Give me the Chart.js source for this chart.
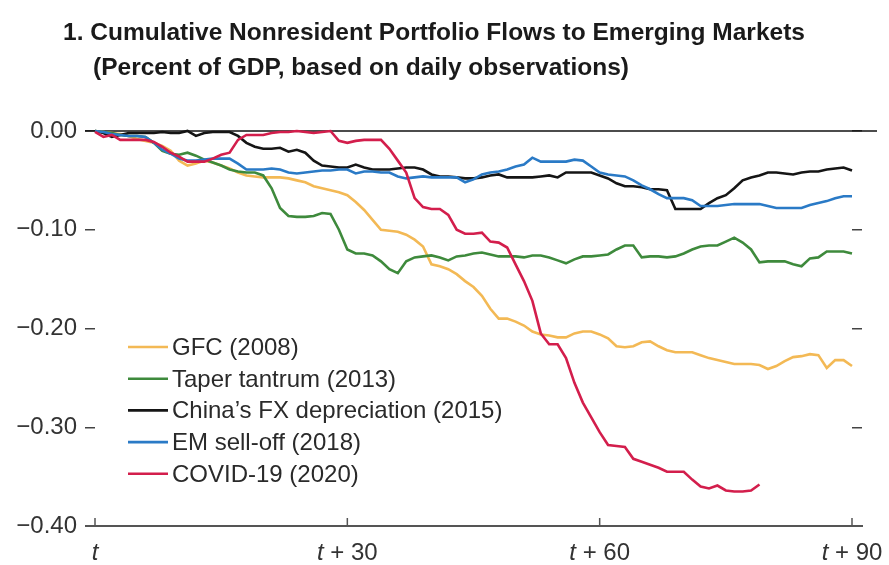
<!DOCTYPE html>
<html>
<head>
<meta charset="utf-8">
<script src="https://cdn.jsdelivr.net/npm/chart.js@4/dist/chart.umd.min.js"></script>
<style>
html,body{margin:0;padding:0;background:#fff;}
#wrap{position:relative;width:889px;height:565px;overflow:hidden;}
.title{position:absolute;font-family:"Liberation Sans",Arial,sans-serif;font-weight:bold;font-size:24.5px;line-height:24.5px;color:#1a1a1a;white-space:nowrap;}
#t1{left:63px;top:20px;}
#t2{left:93px;top:55px;}
canvas{position:absolute;left:0;top:0;}
</style>
</head>
<body>
<div id="wrap">
<canvas id="c" width="889" height="565"></canvas>
<div class="title" id="t1">1. Cumulative Nonresident Portfolio Flows to Emerging Markets</div>
<div class="title" id="t2">(Percent of GDP, based on daily observations)</div>
</div>
<script>
// ---- data (percent of GDP, daily, t = day 0) ----
const seriesNames = ["GFC (2008)", "Taper tantrum (2013)", "China\u2019s FX depreciation (2015)", "EM sell-off (2018)", "COVID-19 (2020)"];

const gfc = [0,-0.001,-0.002,-0.003,-0.005,-0.008,-0.01,-0.012,-0.015,-0.02,-0.03,-0.035,-0.033,-0.03,-0.032,-0.035,-0.038,-0.042,-0.045,-0.046,-0.047,-0.047,-0.047,-0.048,-0.05,-0.052,-0.056,-0.058,-0.06,-0.062,-0.065,-0.072,-0.08,-0.09,-0.1,-0.101,-0.102,-0.105,-0.11,-0.117,-0.135,-0.137,-0.14,-0.145,-0.152,-0.158,-0.167,-0.18,-0.19,-0.19,-0.193,-0.197,-0.203,-0.206,-0.207,-0.209,-0.209,-0.205,-0.203,-0.203,-0.206,-0.21,-0.218,-0.219,-0.218,-0.214,-0.213,-0.218,-0.222,-0.224,-0.224,-0.224,-0.227,-0.23,-0.232,-0.234,-0.236,-0.236,-0.236,-0.237,-0.241,-0.238,-0.233,-0.229,-0.228,-0.226,-0.227,-0.24,-0.232,-0.232,-0.238];

const taperTantrum = [0,-0.001,-0.002,-0.004,-0.005,-0.005,-0.006,-0.012,-0.02,-0.023,-0.024,-0.022,-0.025,-0.029,-0.032,-0.035,-0.039,-0.041,-0.042,-0.042,-0.045,-0.058,-0.078,-0.086,-0.087,-0.087,-0.086,-0.083,-0.084,-0.1,-0.12,-0.124,-0.124,-0.126,-0.132,-0.14,-0.144,-0.132,-0.128,-0.127,-0.126,-0.128,-0.131,-0.127,-0.126,-0.124,-0.123,-0.125,-0.127,-0.127,-0.127,-0.128,-0.126,-0.126,-0.128,-0.131,-0.134,-0.13,-0.127,-0.127,-0.126,-0.125,-0.12,-0.116,-0.116,-0.128,-0.127,-0.127,-0.128,-0.127,-0.124,-0.12,-0.117,-0.116,-0.116,-0.112,-0.108,-0.113,-0.12,-0.133,-0.132,-0.132,-0.132,-0.135,-0.137,-0.129,-0.128,-0.122,-0.122,-0.122,-0.124];

const chinaFx = [0,-0.002,-0.006,-0.004,-0.002,-0.002,-0.002,-0.002,-0.001,-0.002,-0.002,0,-0.005,-0.002,-0.001,-0.001,-0.001,-0.005,-0.012,-0.016,-0.018,-0.018,-0.017,-0.021,-0.019,-0.022,-0.03,-0.035,-0.036,-0.037,-0.037,-0.034,-0.037,-0.039,-0.039,-0.039,-0.038,-0.037,-0.037,-0.039,-0.044,-0.046,-0.046,-0.047,-0.048,-0.048,-0.047,-0.045,-0.044,-0.047,-0.047,-0.047,-0.047,-0.046,-0.045,-0.047,-0.042,-0.042,-0.042,-0.042,-0.045,-0.048,-0.053,-0.056,-0.056,-0.057,-0.059,-0.059,-0.06,-0.079,-0.079,-0.079,-0.079,-0.073,-0.068,-0.065,-0.058,-0.05,-0.047,-0.045,-0.042,-0.042,-0.043,-0.044,-0.042,-0.041,-0.041,-0.039,-0.038,-0.037,-0.04];

const emSellOff = [0,-0.001,-0.003,-0.004,-0.005,-0.005,-0.006,-0.012,-0.019,-0.023,-0.028,-0.03,-0.03,-0.029,-0.028,-0.028,-0.028,-0.033,-0.039,-0.039,-0.039,-0.038,-0.039,-0.042,-0.043,-0.042,-0.041,-0.04,-0.04,-0.039,-0.039,-0.043,-0.041,-0.041,-0.042,-0.042,-0.046,-0.048,-0.047,-0.046,-0.047,-0.047,-0.047,-0.047,-0.052,-0.049,-0.044,-0.042,-0.041,-0.039,-0.036,-0.034,-0.027,-0.031,-0.031,-0.031,-0.031,-0.029,-0.03,-0.036,-0.042,-0.044,-0.045,-0.046,-0.05,-0.055,-0.059,-0.064,-0.068,-0.068,-0.068,-0.07,-0.076,-0.076,-0.076,-0.075,-0.074,-0.074,-0.074,-0.074,-0.076,-0.078,-0.078,-0.078,-0.078,-0.075,-0.073,-0.071,-0.068,-0.066,-0.066];

const covid19 = [-0.001,-0.006,-0.004,-0.009,-0.009,-0.009,-0.009,-0.011,-0.016,-0.022,-0.026,-0.031,-0.031,-0.031,-0.028,-0.024,-0.022,-0.009,-0.004,-0.004,-0.004,-0.002,-0.001,-0.001,0,-0.001,-0.002,-0.001,0,-0.01,-0.012,-0.01,-0.009,-0.009,-0.009,-0.018,-0.03,-0.042,-0.068,-0.077,-0.079,-0.079,-0.085,-0.1,-0.104,-0.104,-0.103,-0.112,-0.113,-0.118,-0.135,-0.152,-0.172,-0.205,-0.216,-0.216,-0.23,-0.255,-0.275,-0.29,-0.305,-0.318,-0.319,-0.32,-0.332,-0.335,-0.338,-0.341,-0.345,-0.345,-0.345,-0.353,-0.36,-0.362,-0.359,-0.364,-0.365,-0.365,-0.364,-0.358];

const xTickValues = [0, 30, 60, 90];
const xTickLabels = ["t", "t + 30", "t + 60", "t + 90"];
const yTickValues = [0, -0.1, -0.2, -0.3, -0.4];
const yTickLabels = ["0.00", "\u22120.10", "\u22120.20", "\u22120.30", "\u22120.40"];

// ---- styles ----
const FONT = '"Liberation Sans", Arial, sans-serif';
const NARROW = '"Liberation Sans Narrow", "Arial Narrow", sans-serif';
const colors = ["#F3B955", "#3E8A3C", "#151515", "#2A7AC6", "#D31E4C"];
const allSeries = [gfc, taperTantrum, chinaFx, emSellOff, covid19];

// detect narrow font
function hasFont(name) {
  const cv = document.createElement("canvas").getContext("2d");
  const s = "abcdefghijklmnopqrstuvwxyz0123456789";
  cv.font = '40px monospace'; const a = cv.measureText(s).width;
  cv.font = '40px "' + name + '", monospace'; const b = cv.measureText(s).width;
  return Math.abs(a - b) > 0.5;
}
const narrowOK = hasFont("Liberation Sans Narrow");
let legendFont = "24px " + FONT;
if (narrowOK) {
  legendFont = "29px " + NARROW;
  for (const id of ["t1", "t2"]) {
    const el = document.getElementById(id);
    el.style.fontFamily = NARROW;
    el.style.fontSize = "29.5px";
    el.style.lineHeight = "29.5px";
  }
  document.getElementById("t1").style.top = "18px";
  document.getElementById("t2").style.top = "52px";
}

const datasets = allSeries.map((arr, k) => ({
  label: seriesNames[k],
  data: arr.map((v, i) => ({ x: i, y: v })),
  borderColor: colors[k],
  backgroundColor: colors[k],
  borderWidth: 2.6,
  pointRadius: 0,
  tension: 0,
  clip: false,
  order: 5 - k
}));

function findLabel(v) {
  const i = yTickValues.findIndex(t => Math.abs(t - v) < 1e-9);
  return i >= 0 ? yTickLabels[i] : "";
}

const decor = {
  id: "decor",
  beforeDatasetsDraw(chart) {
    const { ctx, chartArea: ca } = chart;
    const x = chart.scales.x, y = chart.scales.y;
    const y0 = y.getPixelForValue(0);
    const yb = y.getPixelForValue(-0.4);
    ctx.save();
    ctx.lineCap = "butt";
    ctx.strokeStyle = "#111";
    ctx.lineWidth = 1.6;
    ctx.beginPath();
    ctx.moveTo(ca.left - 10, y0);
    ctx.lineTo(ca.right + 25, y0);
    ctx.stroke();
    ctx.strokeStyle = "#555";
    ctx.lineWidth = 2;
    ctx.beginPath();
    ctx.moveTo(ca.left - 10, yb);
    ctx.lineTo(ca.right + 11, yb);
    ctx.stroke();
    ctx.lineWidth = 1.5;
    xTickValues.forEach(v => {
      const px = x.getPixelForValue(v);
      ctx.beginPath();
      ctx.moveTo(px, yb - 8);
      ctx.lineTo(px, yb);
      ctx.stroke();
    });
    ctx.fillStyle = "#333";
    ctx.textBaseline = "alphabetic";
    ctx.textAlign = "left";
    xTickValues.forEach((v, i) => {
      const lab = xTickLabels[i];
      const head = lab.slice(0, 1), tail = lab.slice(1);
      const fi = "italic 24px " + FONT, fr = "24px " + FONT;
      ctx.font = fi; const w1 = ctx.measureText(head).width;
      ctx.font = fr; const w2 = ctx.measureText(tail).width;
      const px = x.getPixelForValue(v);
      const sx = px - (w1 + w2) / 2;
      ctx.font = fi; ctx.fillText(head, sx, 560);
      ctx.font = fr; ctx.fillText(tail, sx + w1, 560);
    });
    ctx.restore();
  },
  afterDraw(chart) {
    const { ctx, chartArea: ca } = chart;
    ctx.save();
    ctx.font = legendFont;
    ctx.textBaseline = "alphabetic";
    ctx.textAlign = "left";
    seriesNames.forEach((name, k) => {
      const base = 355 + k * 31.7;
      ctx.strokeStyle = colors[k];
      ctx.lineWidth = 2.6;
      ctx.beginPath();
      ctx.moveTo(ca.left + 33, base - 8);
      ctx.lineTo(ca.left + 73, base - 8);
      ctx.stroke();
      ctx.fillStyle = "#2a2a2a";
      ctx.fillText(name, ca.left + 77, base);
    });
    ctx.restore();
  }
};

new Chart(document.getElementById("c"), {
  type: "line",
  data: { datasets },
  options: {
    responsive: false,
    animation: false,
    devicePixelRatio: 1,
    layout: { padding: { top: 131, right: 0, bottom: 0, left: 0 } },
    plugins: { legend: { display: false }, tooltip: { enabled: false }, title: { display: false } },
    scales: {
      x: {
        type: "linear", min: 0, max: 90,
        ticks: { display: false },
        grid: { display: false },
        border: { display: false },
        afterFit(s) { s.height = 39; }
      },
      y: {
        type: "linear", position: "left", min: -0.4, max: 0,
        afterBuildTicks(s) { s.ticks = yTickValues.map(v => ({ value: v })); },
        ticks: { font: { family: FONT, size: 24 }, color: "#333", padding: 8,
                 callback: (v) => findLabel(v) },
        grid: { drawOnChartArea: false, drawTicks: true, tickLength: 10, color: "#444", lineWidth: 1.5 },
        border: { display: false },
        afterFit(s) { s.width = 95; }
      },
      y2: {
        type: "linear", position: "right", min: -0.4, max: 0,
        afterBuildTicks(s) { s.ticks = yTickValues.map(v => ({ value: v })); },
        ticks: { callback: () => "", padding: 0 },
        grid: { drawOnChartArea: false, drawTicks: true, tickLength: 10, color: "#444", lineWidth: 1.5 },
        border: { display: false },
        afterFit(s) { s.width = 37; }
      }
    }
  },
  plugins: [decor]
});
</script>
</body>
</html>
